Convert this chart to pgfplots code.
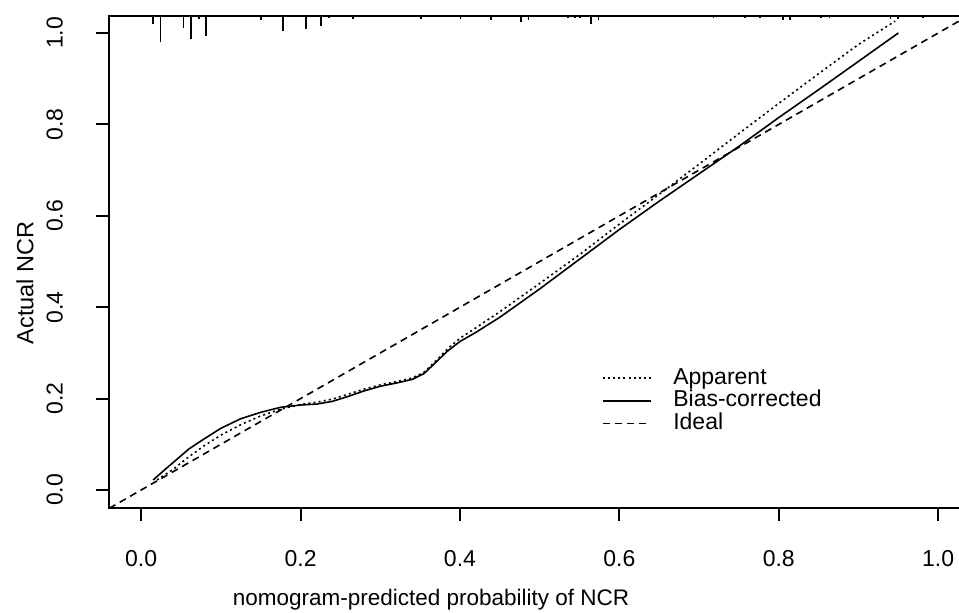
\documentclass[border=0pt]{standalone}
\usepackage{fontspec}
\setmainfont{Liberation Sans}
\usepackage{pgfplots}
\pgfplotsset{compat=1.18}
\pgfplotstableread{
x y
0.0147 1.0379
0.0147 1.0206
nan nan
0.0242 1.0379
0.0242 0.9812
nan nan
0.0531 1.0379
0.0531 1.0119
nan nan
0.0624 1.0379
0.0624 0.9862
nan nan
0.0724 1.0379
0.0724 1.0315
nan nan
0.0816 1.0379
0.0816 0.9928
nan nan
0.1500 1.0379
0.1500 1.0287
nan nan
0.1780 1.0379
0.1780 1.0039
nan nan
0.2070 1.0379
0.2070 1.0089
nan nan
0.2255 1.0379
0.2255 1.0147
nan nan
0.2355 1.0379
0.2355 1.0322
nan nan
0.2656 1.0379
0.2656 1.0315
nan nan
0.3510 1.0379
0.3510 1.0315
nan nan
0.4006 1.0379
0.4006 1.0315
nan nan
0.4388 1.0379
0.4388 1.0287
nan nan
0.4764 1.0379
0.4764 1.0234
nan nan
0.4860 1.0379
0.4860 1.0278
nan nan
0.5358 1.0379
0.5358 1.0322
nan nan
0.5445 1.0379
0.5445 1.0322
nan nan
0.5508 1.0379
0.5508 1.0322
nan nan
0.5646 1.0379
0.5646 1.0206
nan nan
0.5738 1.0379
0.5738 1.0287
nan nan
0.7180 1.0379
0.7180 1.0322
nan nan
0.7580 1.0379
0.7580 1.0322
nan nan
0.7767 1.0379
0.7767 1.0322
nan nan
0.8051 1.0379
0.8051 1.0278
nan nan
0.8143 1.0379
0.8143 1.0278
nan nan
0.8528 1.0379
0.8528 1.0322
nan nan
0.8636 1.0379
0.8636 1.0322
nan nan
0.9401 1.0379
0.9401 1.0304
nan nan
0.9496 1.0379
0.9496 1.0300
nan nan
0.9810 1.0379
0.9810 1.0322
}\rugtable
\pgfplotstableread{
x y
0.020 0.022
0.040 0.045
0.060 0.073
0.080 0.098
0.100 0.120
0.125 0.143
0.150 0.162
0.175 0.177
0.200 0.187
0.220 0.192
0.240 0.199
0.260 0.210
0.280 0.221
0.300 0.230
0.320 0.237
0.340 0.245
0.355 0.258
0.370 0.283
0.385 0.310
0.400 0.332
0.420 0.355
0.450 0.390
0.500 0.452
0.550 0.515
0.600 0.582
0.650 0.647
0.700 0.713
0.750 0.780
0.800 0.846
0.850 0.911
0.900 0.975
0.946 1.026
}\apparent
\pgfplotstableread{
x y
0.015 0.022
0.030 0.045
0.060 0.090
0.080 0.113
0.100 0.135
0.125 0.156
0.150 0.170
0.175 0.181
0.200 0.186
0.220 0.188
0.240 0.194
0.260 0.205
0.280 0.217
0.300 0.227
0.320 0.234
0.340 0.242
0.355 0.255
0.370 0.280
0.385 0.305
0.400 0.325
0.420 0.345
0.450 0.378
0.500 0.440
0.550 0.505
0.600 0.570
0.650 0.632
0.700 0.692
0.750 0.752
0.800 0.815
0.850 0.876
0.900 0.938
0.950 1.000
}\biascorr
\pgfplotstableread{
x y
-0.04 -0.04
1.06 1.06
}\ideal
\begin{document}
\fontsize{11.5}{13.8}\selectfont
\begin{tikzpicture}
\path[use as bounding box, clip] (0,0) rectangle (479.5pt,306.5pt);
\begin{axis}[
  at={(54.65pt,52.65pt)}, anchor=south west,
  scale only axis, width=438.35pt, height=246pt,
  xmin=-0.04, xmax=1.06, ymin=-0.0387, ymax=1.0379,
  axis line style={line width=1pt, black},
  xtick pos=left, ytick pos=left, tick align=outside,
  major tick length=6.5pt,
  tick style={line width=1pt, black},
  xtick={0,0.2,0.4,0.6,0.8,1}, xticklabels={0.0,0.2,0.4,0.6,0.8,1.0},
  ytick={0,0.2,0.4,0.6,0.8,1}, yticklabels={0.0,0.2,0.4,0.6,0.8,1.0},
  xticklabel style={anchor=center, yshift=-19.15pt},
  yticklabel style={anchor=center, xshift=-20.75pt, rotate=90},
  legend style={draw=none, fill=none, inner sep=0pt, at={(0.5612,0.287)}, anchor=north west,
    nodes={inner sep=0pt, text height=8.7pt, text depth=2.6pt}, row sep=0pt, cells={anchor=west}},
  legend image code/.code={\draw[#1] (0pt,0pt) -- (24pt,0pt); \path (35pt,0pt);},
]
\addplot[black, line width=0.9pt, unbounded coords=jump, forget plot] table[x=x,y=y] {\rugtable};
\addplot[black, line width=0.8pt, dash pattern=on 1pt off 1.6pt] table[x=x,y=y] {\apparent};
\addlegendentry{Apparent}
\addplot[black, line width=0.8pt] table[x=x,y=y] {\biascorr};
\addlegendentry{Bias-corrected}
\addplot[black, line width=0.8pt, dash pattern=on 3.5pt off 2.5pt] table[x=x,y=y] {\ideal};
\addlegendentry{Ideal}
\end{axis}
\node[rotate=90, font=\fontsize{11.75}{14}\selectfont] at (12.5pt,165pt) {Actual NCR};
\node[font=\fontsize{11.25}{13.5}\selectfont] at (215.5pt,6.5pt) {nomogram-predicted probability of NCR};
\end{tikzpicture}
\end{document}
